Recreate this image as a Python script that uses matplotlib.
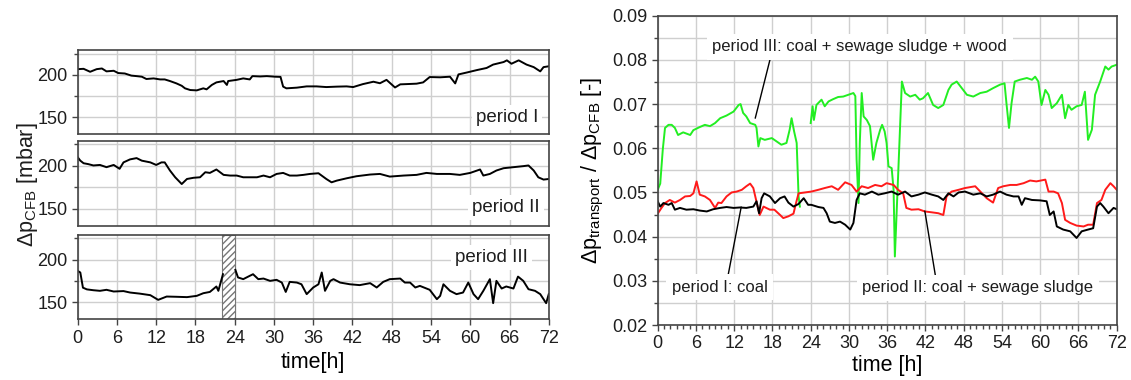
import numpy as np
import matplotlib
matplotlib.use("Agg")
import matplotlib.pyplot as plt
from matplotlib.ticker import MultipleLocator

plt.rcParams['font.family'] = ['Liberation Sans', 'DejaVu Sans']
plt.rcParams['mathtext.fontset'] = 'custom'
plt.rcParams['mathtext.rm'] = 'Liberation Sans'
plt.rcParams['mathtext.default'] = 'regular'

# ---- left: pressure drop over the CFB, three periods ----
t1 = [0, 0.9, 1.9, 2.9, 3.7, 4.4, 5.5, 6.2, 7.2, 8.2, 9, 9.8, 10.5, 11.6, 12.6, 13.3,
      14.1, 15.1, 15.9, 16.4, 17.2, 18.2, 19.2, 19.7, 20.5, 21.2, 22.3, 22.8, 23.0, 24.3,
      25.3, 26.3, 26.7, 27.9, 28.9, 30.2, 31.0, 31.4, 31.9, 33.5, 35, 36.5, 38, 39.6, 41.1,
      42.1, 43.6, 45.2, 46.2, 47.2, 48.5, 49.3, 50.3, 51.8, 52.8, 53.8, 55.4, 56.9, 57.7,
      58.2, 59.5, 61, 62.5, 63.5, 65.1, 65.6, 66.3, 67.4, 68.6, 69.7, 70.7, 71.2, 72]
p1 = [206.6, 207, 203.5, 206.6, 207.4, 204, 204.7, 202, 201.5, 199, 198.4, 197.7, 195, 195.7,
      194.5, 194.5, 192.6, 189.8, 187, 184, 182, 181.6, 184, 182.8, 188, 191, 192.6, 188,
      192.6, 194, 195.7, 194.5, 198.4, 198, 198.4, 197.7, 197.5, 186, 184, 184.8, 186.3,
      186.3, 185.5, 186, 186.3, 185.5, 189, 191.8, 190, 194, 185, 188.7, 189, 189.5, 191,
      197.3, 197, 197.7, 189.8, 200.4, 202.7, 205.5, 208, 212, 215, 217, 213, 217, 212,
      209, 204, 209, 210]

t2 = [0, 0.4, 0.9, 1.6, 2.4, 3.4, 4.4, 5.5, 6.4, 7, 8, 9, 9.8, 11.1, 12, 12.8, 13.3, 14.1,
      14.9, 15.9, 16.7, 17.7, 18.7, 19.5, 20.2, 21.2, 22.3, 23.3, 24.3, 25.3, 26.3, 27.4,
      28.4, 29.4, 30.4, 31.4, 32.4, 33.5, 34.5, 35.5, 36.8, 38, 38.8, 39.6, 41.1, 42.6,
      44.7, 46.2, 47.7, 49.8, 51.8, 53.3, 54.9, 56.9, 58.4, 60, 61.5, 62, 63, 64, 65.1,
      66.6, 68.1, 68.9, 69.7, 70.4, 71.2, 72]
p2 = [210, 206, 203, 202, 200.4, 201, 198.4, 201, 196.5, 204, 207.5, 209, 206, 204, 201,
      204, 204, 194.5, 186.6, 178.7, 184.6, 186, 186.6, 192.5, 191.7, 195.7, 189.4, 188.6,
      188.6, 186.6, 186.6, 186.6, 188.6, 186.6, 190.5, 191.7, 188.6, 188.6, 189.4, 190.5,
      191.3, 184.6, 180.7, 182.7, 185.4, 187.8, 189.8, 190.5, 187.4, 188.6, 189.4, 191.7,
      190.5, 190.5, 189.4, 191.7, 195.7, 188.6, 190.5, 194.5, 197.2, 198.4, 199.6, 200.4,
      194.5, 186.6, 183.9, 184.6]

t3 = [0, 0.4, 0.8, 1.4, 2.4, 3.4, 4.4, 5.5, 7, 8, 9.5, 11.1, 12.3, 13.6, 15.1, 16.7, 18.2,
      19.2, 20.2, 21.2, 21.5, 22.2, np.nan, 24.1, 24.5, 25.3, 26.3, 26.8, 27.6, 28.4, 29.4,
      30.4, 31.2, 31.8, 32.4, 33.5, 34.2, 35, 36, 36.8, 37.3, 37.8, 38.6, 39.1, 40.1, 41.6,
      43.1, 44.7, 45.7, 46.7, 47.7, 49.3, 50, 50.8, 51.6, 52.3, 53.8, 54.9, 55.4, 55.9,
      56.9, 57.9, 58.9, 59.7, 60.5, 61.2, 62, 63, 63.5, 64, 64.8, 65.5, 66.6, 67.3, 68.1,
      68.9, 69.9, 70.7, 71.6, 72]
p3 = [186.7, 184.8, 167, 165, 164, 163.3, 164.5, 162.5, 163, 161.3, 160, 158.2, 152.7, 156.6,
      156.3, 155.9, 157.4, 160.5, 162, 168.4, 163.3, 182.8, np.nan, 187.9, 179, 177, 180.9,
      182.8, 177, 177.7, 175, 176.2, 173, 162, 173.8, 173, 171, 159.4, 167.2, 171, 184.8,
      163.3, 175, 177, 173, 171, 170, 172.3, 167.2, 173.8, 177, 177.7, 173, 173, 167.2,
      169.1, 164.5, 153.5, 157.4, 171, 163.3, 159.4, 161.3, 173, 159.4, 153.5, 163.3, 177,
      148.8, 175, 166, 168.4, 166, 180, 175, 165.2, 163.3, 159.4, 148.8, 159.4]

# ---- right: transport / CFB pressure-drop ratio ----
tg = [0, 0.4, 0.8, 1.15, 1.7, 2.2, 2.7, 3.2, 4, 5.1, 5.6, 6.6, 7.4, 8.2, 9, 9.8, 10.8, 11.9,
      12.7, 13, 13.4, 13.9, 14.5, 15.3, 15.5, 15.8, 16.1, 16.8, 17.9, 18.7, 19.4, 20.2, 20.7,
      21, 21.4, 21.8, 22.1, 22.3, np.nan, 24, 24.3, 24.5, 24.9, 25.7, 26.2, 26.8, 27.5,
      28.3, 29.1, 29.9, 30.7, 31.0, 31.2, 31.5, 31.7, 32, 32.3, 32.8, 33.3, 33.8, 34.3,
      34.9, 35.2, 35.6, 35.9, 36.2, 36.7, 37.0, 37.2, 37.6, 38.3, 38.8, 39.6, 40.4, 41.1,
      41.6, 42.4, 43.2, 44, 44.8, 45.6, 46.1, 46.9, 47.7, 48.5, 49.5, 50.6, 51.6, 52.6,
      53.7, 54.4, 54.7, 55.1, 55.5, 56, 56.8, 57.9, 58.7, 59.2, 59.7, 60.2, 60.8, 61.3,
      61.8, 62.6, 63.4, 63.9, 64.4, 64.9, 65.7, 66.5, 67, 67.5, 68.1, 68.6, 69.4, 70.2,
      70.7, 71.2, 72]
vg = [0.0506, 0.052, 0.0597, 0.0646, 0.0653, 0.0653, 0.0646, 0.063, 0.0636, 0.063, 0.0641,
      0.0648, 0.0653, 0.065, 0.0657, 0.0668, 0.0674, 0.0683, 0.0698, 0.07, 0.068, 0.0672,
      0.0657, 0.0653, 0.0646, 0.0604, 0.0623, 0.0619, 0.0623, 0.0615, 0.0608, 0.0612,
      0.0642, 0.0668, 0.0638, 0.0612, 0.0491, 0.0468, np.nan, 0.0657, 0.0695, 0.0664,
      0.0698, 0.071, 0.0695, 0.0706, 0.0711, 0.0716, 0.0717, 0.0721, 0.0725, 0.0718, 0.0574,
      0.0476, 0.0612, 0.0725, 0.0672, 0.0664, 0.065, 0.0574, 0.0612, 0.0642, 0.0653, 0.0638,
      0.0612, 0.0559, 0.0555, 0.0506, 0.0355, 0.0498, 0.0751, 0.0725, 0.0717, 0.0721, 0.071,
      0.0713, 0.0725, 0.0698, 0.0691, 0.0698, 0.0732, 0.0744, 0.0751, 0.0736, 0.0721,
      0.0717, 0.0725, 0.0728, 0.0736, 0.0744, 0.0747, 0.0702, 0.0646, 0.0702, 0.0751,
      0.0755, 0.0759, 0.0755, 0.0762, 0.0751, 0.0698, 0.0732, 0.0721, 0.0691, 0.0702,
      0.0721, 0.0668, 0.0698, 0.0687, 0.0695, 0.0698, 0.0728, 0.0619, 0.0642, 0.0721,
      0.0751, 0.0785, 0.0778, 0.0785, 0.0789]

tr = [0, 0.6, 1.15, 1.9, 2.7, 3.5, 4.3, 5.1, 5.6, 6.1, 6.6, 7.4, 8.2, 9, 9.5, 10, 10.8,
      11.6, 12.4, 13.2, 13.9, 14.5, 15, 15.5, 16, 16.6, 17.6, 18.3, 19.2, 19.7, 20.5, 21.3,
      21.7, 22.1, 23.1, 24.1, 25.2, 26.2, 27.3, 28.3, 29.4, 30.4, 31.2, 32, 33, 34.1, 35.1,
      35.9, 37, 37.7, 38.5, 39, 39.8, 40.9, 41.9, 43, 44, 44.8, 45.3, 46.1, 47.2, 48.2,
      49.8, 50.6, 51.6, 52.6, 53.4, 54.2, 55.3, 56.3, 57.4, 58.4, 59.4, 60.8, 61.3, 62.1,
      62.8, 63.4, 63.9, 64.7, 65.7, 66.8, 67.5, 68.3, 68.9, 69.6, 70.2, 71, 71.5, 72]
vr = [0.0452, 0.0465, 0.0476, 0.0483, 0.0477, 0.0483, 0.0491, 0.0492, 0.0498, 0.0525,
      0.0495, 0.0491, 0.0483, 0.0465, 0.0477, 0.0476, 0.0491, 0.05, 0.0502, 0.0506, 0.0514,
      0.052, 0.051, 0.0479, 0.0449, 0.0468, 0.0461, 0.0461, 0.0449, 0.0442, 0.0446, 0.0452,
      0.0476, 0.0498, 0.05, 0.0502, 0.0506, 0.051, 0.0514, 0.0506, 0.0523, 0.0517, 0.0502,
      0.0514, 0.051, 0.0517, 0.0514, 0.0521, 0.0517, 0.0506, 0.0498, 0.0465, 0.0461,
      0.0462, 0.0457, 0.0455, 0.0453, 0.0449, 0.0491, 0.0502, 0.0506, 0.051, 0.0514,
      0.0502, 0.0487, 0.0477, 0.051, 0.0514, 0.0517, 0.0517, 0.0521, 0.0527, 0.0525,
      0.0529, 0.0502, 0.0502, 0.0498, 0.0476, 0.0438, 0.0431, 0.0425, 0.0423, 0.0427,
      0.0427, 0.0476, 0.0483, 0.0506, 0.0521, 0.0514, 0.0506]

tb = [0, 0.4, 0.9, 1.7, 2.2, 2.7, 3.5, 4.5, 5.6, 6.6, 7.7, 8.7, 9.8, 10.8, 11.9, 12.9,
      13.9, 15, 15.5, 15.9, 16.3, 16.7, 17.6, 18.4, 19.2, 19.9, 20.5, 21.3, 22.1, 22.9,
      23.6, 24.1, 25.2, 26, 26.5, 27, 27.8, 28.6, 29.4, 30.2, 30.7, 31.2, 31.7, 32.5, 33.6,
      34.6, 35.6, 36.7, 37.7, 38.8, 39.8, 40.9, 41.9, 43, 44, 44.8, 45.6, 46.4, 47.2, 48.2,
      49.5, 50.6, 51.6, 52.6, 53.7, 54.7, 55.8, 56.6, 57.1, 57.6, 58.7, 60, 61, 61.5, 62.1,
      62.6, 63.6, 64.7, 65.7, 66.5, 67.5, 68.3, 68.9, 69.4, 69.9, 70.7, 71.5, 72]
vb = [0.048, 0.0468, 0.0476, 0.0472, 0.0476, 0.0461, 0.0465, 0.0461, 0.0462, 0.0459,
      0.0457, 0.0462, 0.0465, 0.0467, 0.0465, 0.0466, 0.0465, 0.0468, 0.048, 0.0453,
      0.0487, 0.0498, 0.0491, 0.0476, 0.0487, 0.0491, 0.0477, 0.0468, 0.0474, 0.0487,
      0.0472, 0.0472, 0.0467, 0.0465, 0.0453, 0.0434, 0.0431, 0.0434, 0.0427, 0.0416,
      0.0431, 0.0483, 0.0498, 0.0495, 0.0502, 0.0495, 0.0498, 0.0502, 0.0495, 0.0502,
      0.0491, 0.0495, 0.05, 0.0495, 0.0491, 0.0483, 0.0498, 0.0491, 0.05, 0.0502, 0.0495,
      0.0498, 0.0491, 0.0495, 0.0502, 0.0495, 0.0491, 0.0491, 0.0472, 0.0487, 0.0483,
      0.0482, 0.048, 0.0449, 0.0457, 0.0423, 0.0416, 0.0412, 0.0397, 0.0412, 0.0416,
      0.0419, 0.0468, 0.0476, 0.0468, 0.0453, 0.0465, 0.0462]

period_labels = ["period I", "period II", "period III"]

fig = plt.figure(figsize=(11.31, 3.8), dpi=100)
fig.patch.set_facecolor("white")

spine_c = "#444444"
grid_c = "#cfcfcf"

def style_axis(ax):
    for s in ax.spines.values():
        s.set_color(spine_c)
        s.set_linewidth(1.2)
    ax.tick_params(which="both", direction="out", colors=spine_c, labelcolor="#1e1e1e",
                   labelsize=13, width=1)
    ax.tick_params(which="major", length=4)
    ax.tick_params(which="minor", length=3)
    ax.set_axisbelow(True)

rects = [[0.0687, 0.647, 0.4165, 0.221],
         [0.0687, 0.406, 0.4165, 0.223],
         [0.0687, 0.160, 0.4165, 0.222]]
series = [(t1, p1), (t2, p2), (t3, p3)]
lab_pos = [(70.4, 150), (70.6, 151), (68.8, 202)]

for i, (r, (t, p)) in enumerate(zip(rects, series)):
    ax = fig.add_axes(r)
    style_axis(ax)
    ax.plot(t, p, color="black", lw=1.4)
    ax.set_xlim(0, 72)
    ax.set_ylim(130, 229)
    ax.xaxis.set_major_locator(MultipleLocator(6))
    ax.yaxis.set_major_locator(MultipleLocator(50))
    ax.yaxis.set_minor_locator(MultipleLocator(25))
    ax.grid(True, which="major", axis="x", color=grid_c, lw=1)
    ax.grid(True, which="both", axis="y", color=grid_c, lw=1)
    tx, ty = lab_pos[i]
    ax.text(tx, ty, period_labels[i], ha="right", va="center", fontsize=13.5,
            color="#1e1e1e", bbox=dict(facecolor="white", edgecolor="none", pad=3))
    if i < 2:
        ax.tick_params(axis="x", which="both", bottom=False, labelbottom=False)
    else:
        ax.axvspan(22, 24, facecolor="white", edgecolor="#777777", hatch="/////",
                   lw=0.8, zorder=1.5)
        ax.set_xlabel("time[h]", fontsize=15.5, labelpad=4)

fig.text(0.024, 0.513, "Δp$_{CFB}$ [mbar]", rotation=90, ha="center", va="center",
         fontsize=15.5, color="#1e1e1e")

# right panel
axr = fig.add_axes([0.5815, 0.1447, 0.4059, 0.8140])
style_axis(axr)
axr.plot(tg, vg, color="#22ee22", lw=1.4)
axr.plot(tr, vr, color="#ff1a1a", lw=1.4)
axr.plot(tb, vb, color="black", lw=1.4)
axr.set_xlim(0, 72)
axr.set_ylim(0.02, 0.09)
axr.xaxis.set_major_locator(MultipleLocator(6))
axr.xaxis.set_minor_locator(MultipleLocator(1))
axr.yaxis.set_major_locator(MultipleLocator(0.01))
axr.yaxis.set_minor_locator(MultipleLocator(0.005))
axr.yaxis.set_major_formatter(plt.FormatStrFormatter("%.2f"))
axr.grid(True, which="major", axis="x", color=grid_c, lw=1)
axr.grid(True, which="both", axis="y", color=grid_c, lw=1)
axr.set_xlabel("time [h]", fontsize=15.5, labelpad=2)
axr.set_ylabel("Δp$_{transport}$ / Δp$_{CFB}$ [-]", fontsize=15.5, labelpad=4)

box = dict(facecolor="white", edgecolor="none", pad=4)
axr.annotate("period III: coal + sewage sludge + wood", xy=(15.3, 0.0668),
             xytext=(31.7, 0.0830), ha="center", va="center", fontsize=12,
             color="#1e1e1e", bbox=box,
             arrowprops=dict(arrowstyle="-", color="black", lw=1,
                             shrinkA=0, shrinkB=0, relpos=(0.2, 0.0)))
axr.annotate("period I: coal", xy=(13.1, 0.0467), xytext=(9.7, 0.0285),
             ha="center", va="center", fontsize=12, color="#1e1e1e", bbox=box,
             arrowprops=dict(arrowstyle="-", color="black", lw=1,
                             shrinkA=0, shrinkB=0, relpos=(0.58, 1.0)))
axr.annotate("period II: coal + sewage sludge", xy=(41.9, 0.0458), xytext=(50.2, 0.0284),
             ha="center", va="center", fontsize=12, color="#1e1e1e", bbox=box,
             arrowprops=dict(arrowstyle="-", color="black", lw=1,
                             shrinkA=0, shrinkB=0, relpos=(0.32, 1.0)))

fig.savefig("out.png", dpi=100, facecolor="white")
